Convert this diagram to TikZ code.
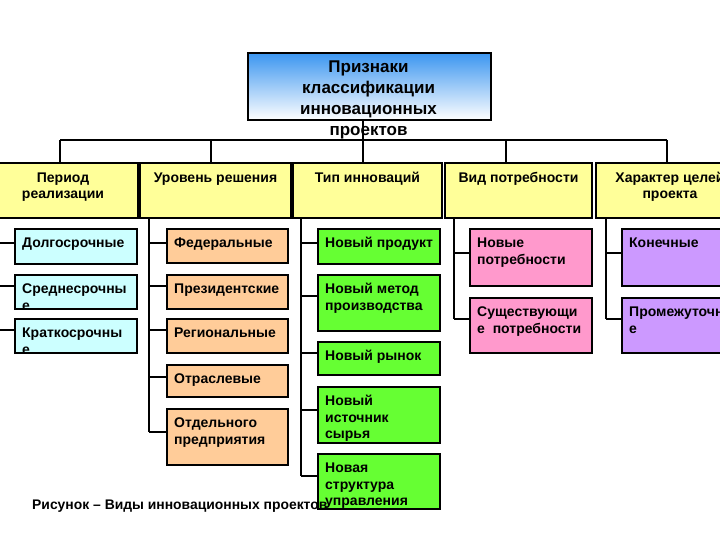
\documentclass[tikz,border=0pt]{standalone}
\usepackage{fontspec}
\setmainfont{Liberation Sans}
\usetikzlibrary{calc}
\definecolor{cyanbox}{RGB}{204,255,255}
\definecolor{peach}{RGB}{255,204,153}
\definecolor{grn}{RGB}{102,255,51}
\definecolor{pinkbox}{RGB}{255,153,204}
\definecolor{lav}{RGB}{204,153,255}
\definecolor{yel}{RGB}{255,255,153}
\definecolor{topblue}{RGB}{60,150,240}
\tikzset{
  boxline/.style={line width=2pt, draw=black},
  conn/.style={line width=2.4pt, black},
  kidbox/.style={boxline, rectangle, anchor=north west, inner sep=0pt, outer sep=0pt},
  catbox/.style={boxline, rectangle, anchor=north west, inner sep=0pt, outer sep=0pt, fill=yel},
  kidtext/.style={anchor=north west, inner sep=0pt, align=left, font=\bfseries\fontsize{14}{16.5}\selectfont},
  cattext/.style={anchor=north, inner sep=0pt, align=center, font=\bfseries\fontsize{14}{16.5}\selectfont},
  toptext/.style={anchor=north, inner sep=0pt, align=center, font=\bfseries\fontsize{17}{21}\selectfont},
  captext/.style={anchor=base west, inner sep=0pt, font=\bfseries\fontsize{13.9}{16}\selectfont},
}
\newcommand\kid[9]{%
  \node[kidbox, fill=#6, minimum width={#4-#2}, minimum height={#5-#3}] (#1) at (#2,#3) {};
  \begin{scope}
    \clip ($(#1.north west)+(1,1)$) rectangle ($(#1.south east)+(-1,-1)$);
    \node[kidtext] (#1T) at ($(#1.north west)+(7,7)$) {\strut #9};
  \end{scope}
  \coordinate (#1c) at (0,#7);
  \draw[conn] (#8 |- #1c) -- (#1.west |- #1c);
}
\newcommand\cat[5]{%
  \node[catbox, minimum width={#3-#2}, minimum height=55] (#1) at (#2,163) {};
  \node[cattext] (#1T) at ($(#1.north)+(#4,7.5)$) {\strut #5};
}
\begin{document}
\begin{tikzpicture}[x=1pt, y=-1pt]
\useasboundingbox (0,0) rectangle (720,540);
\fill[white] (0,0) rectangle (720,540);

% top box
\node[boxline, rectangle, anchor=north west, inner sep=0pt, minimum width=243, minimum height=67,
      top color=topblue, bottom color=white] (top) at (247,52) {};

% bar coordinates
\coordinate (b1) at (60,140);
\coordinate (b2) at (211,140);
\coordinate (b3) at (363,140);
\coordinate (b4) at (506,140);
\coordinate (b5) at (667,140);

% category boxes
\cat{c1}{-12}{138}{0}{Период\\реализации}
\cat{c2}{140}{291}{0}{Уровень решения}
\cat{c3}{293}{442}{0}{Тип инноваций}
\cat{c4}{445}{592}{0}{Вид потребности}
\cat{c5}{596}{750}{-3}{Характер целей\\проекта}

\draw[conn] (b1) -- (b5);
\draw[conn] (top.south -| b3) -- (c3.north -| b3);
\foreach \i in {1,2,4,5} { \draw[conn] (b\i) -- (c\i.north -| b\i); }

\node[toptext] (topT) at (368.5,57.3) {\strut Признаки\\классификации\\инновационных\\проектов};

% trunks
\coordinate (t1) at (-3,330);
\coordinate (t2) at (149,432);
\coordinate (t3) at (301,476);
\coordinate (t4) at (454,319);
\coordinate (t5) at (606,319);
\foreach \i in {1,...,5} { \draw[conn] (t\i |- c\i.south) -- (t\i); }

% column 1
\kid{k11}{15}{229}{137}{264}{cyanbox}{243}{t1}{Долгосрочные}
\kid{k12}{15}{275}{137}{309}{cyanbox}{286}{t1}{Среднесрочны\\е}
\kid{k13}{15}{319}{137}{353}{cyanbox}{330}{t1}{Краткосрочны\\е}
% column 2
\kid{k21}{167}{229}{288}{263}{peach}{243}{t2}{Федеральные}
\kid{k22}{167}{275}{288}{309}{peach}{286}{t2}{Президентские}
\kid{k23}{167}{319}{288}{353}{peach}{330}{t2}{Региональные}
\kid{k24}{167}{365}{288}{397}{peach}{377}{t2}{Отраслевые}
\kid{k25}{167}{409}{288}{465}{peach}{432}{t2}{Отдельного\\предприятия}
% column 3
\kid{k31}{318}{229}{440}{264}{grn}{243}{t3}{Новый продукт}
\kid{k32}{318}{275}{440}{331}{grn}{296}{t3}{Новый метод\\производства}
\kid{k33}{318}{342}{440}{375}{grn}{353}{t3}{Новый рынок}
\kid{k34}{318}{387}{440}{443}{grn}{410}{t3}{Новый\\источник\\сырья}
\kid{k35}{318}{454}{440}{509}{grn}{476}{t3}{Новая\\структура\\управления}
% column 4
\kid{k41}{470}{229}{592}{286}{pinkbox}{253}{t4}{Новые\\потребности}
\kid{k42}{470}{298}{592}{353}{pinkbox}{319}{t4}{Существующи\\е\ \ потребности}
% column 5
\kid{k51}{622}{229}{744}{286}{lav}{253}{t5}{Конечные}
\kid{k52}{622}{298}{744}{353}{lav}{319}{t5}{Промежуточны\\е}

% caption (drawn last, over the green box)
\node[captext] (cap) at (32,509) {Рисунок – Виды инновационных проектов};
\end{tikzpicture}
\end{document}
